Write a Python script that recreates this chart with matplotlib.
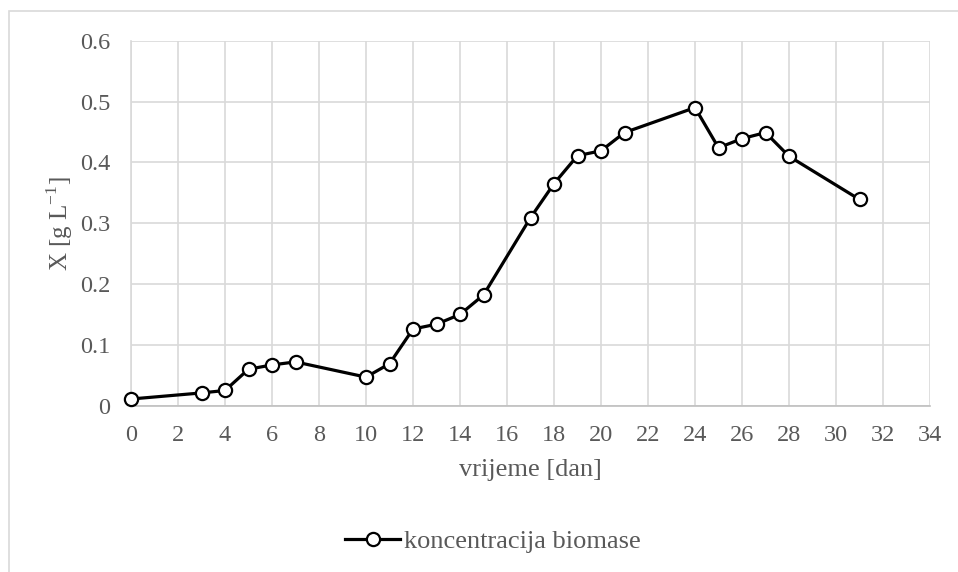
import matplotlib
matplotlib.use("Agg")
import matplotlib.pyplot as plt
from matplotlib.patches import Rectangle

days = [0, 3, 4, 5, 6, 7, 10, 11, 12, 13, 14, 15, 17, 18, 19, 20, 21, 24, 25, 26, 27, 28, 31]
biomass = [0.011, 0.021, 0.025, 0.060, 0.067, 0.072, 0.047, 0.069, 0.126, 0.134, 0.150, 0.182,
           0.309, 0.365, 0.411, 0.419, 0.449, 0.490, 0.424, 0.439, 0.449, 0.410, 0.339]
x_ticks = list(range(0, 35, 2))
y_ticks = [0, 0.1, 0.2, 0.3, 0.4, 0.5, 0.6]
y_tick_labels = ["0", "0.1", "0.2", "0.3", "0.4", "0.5", "0.6"]
series_name = "koncentracija biomase"

W, H = 958, 572
plt.rcParams['font.family'] = ['Liberation Serif', 'DejaVu Serif']
fig = plt.figure(figsize=(W / 100, H / 100), dpi=100)
ax = fig.add_axes([131 / W, 1 - 405.7 / H, (930 - 131) / W, (405.7 - 40.7) / H])

grid_c = '#d9d9d9'
text_c = '#595959'
fs_tick = 17.5
fs_title = 19

ax.plot(days, biomass, color='black', lw=2.3, marker='o', markersize=9.5,
        markerfacecolor='white', markeredgecolor='black', markeredgewidth=1.6,
        label=series_name, zorder=3, clip_on=False)

ax.set_xlim(0, 34)
ax.set_ylim(0, 0.6)
ax.set_xticks(x_ticks)
ax.set_yticks(y_ticks)
ax.set_yticklabels(y_tick_labels)
ax.grid(True, color=grid_c, lw=1.2)
ax.set_axisbelow(True)
for s in ['top', 'right']:
    ax.spines[s].set_visible(False)
ax.spines['left'].set_color(grid_c)
ax.spines['bottom'].set_color('#bfbfbf')
ax.spines['left'].set_linewidth(1.2)
ax.spines['bottom'].set_linewidth(1.2)
ax.tick_params(axis='both', length=0, labelsize=fs_tick, colors=text_c)
ax.tick_params(axis='y', pad=15)
ax.tick_params(axis='x', pad=14)

fig.text(60 / W, 1 - 224 / H, r"X [g L$^{\mathregular{-1}}$]", rotation=90, ha='center', va='center',
         fontsize=18, color=text_c)
fig.text(530.5 / W, 1 - 470 / H, "vrijeme [dan]", ha='center', va='center', fontsize=fs_title, color=text_c)

leg = fig.legend(loc='center', bbox_to_anchor=(493 / W, 1 - 541 / H), frameon=False,
                 fontsize=fs_title, handlelength=2.1, handletextpad=0.15, labelcolor=text_c)

fig.patches.append(Rectangle((8.5 / W, -0.1), 1.2, 1 - 11 / H + 0.1, transform=fig.transFigure,
                             fill=False, edgecolor=grid_c, lw=1.2))

fig.savefig("out.png", dpi=100)
